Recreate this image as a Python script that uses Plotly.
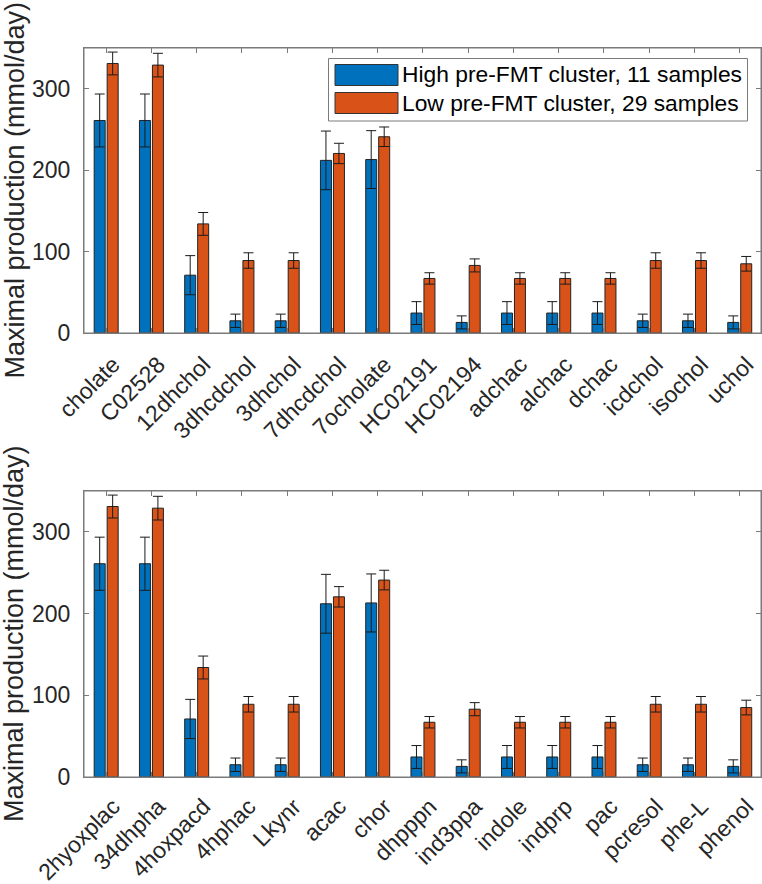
import plotly.graph_objects as go

# ---------------- data ----------------
top_categories = ["cholate", "C02528", "12dhchol", "3dhcdchol", "3dhchol", "7dhcdchol",
                  "7ocholate", "HC02191", "HC02194", "adchac", "alchac", "dchac",
                  "icdchol", "isochol", "uchol"]
top_high = [261, 261, 71, 15, 15, 212, 213, 24.5, 13, 24.5, 24.5, 24.5, 15, 15, 13]
top_high_err = [32.5, 32.5, 24, 8.2, 8.2, 36, 35.5, 14, 8, 14, 14, 14, 8.2, 8.2, 8]
top_low = [331, 329, 134, 89, 89, 220.5, 241, 67, 83, 67, 67, 67, 89, 89, 85]
top_low_err = [14, 14.5, 14, 9.5, 9.5, 12.5, 12, 7, 8, 7, 7, 7, 9.5, 9.5, 9]

bottom_categories = ["2hyoxplac", "34dhpha", "4hoxpacd", "4hphac", "Lkynr", "acac", "chor",
                     "dhpppn", "ind3ppa", "indole", "indprp", "pac", "pcresol", "phe-L", "phenol"]
bottom_high = [261, 261, 71, 15, 15, 212, 213, 24.5, 13, 24.5, 24.5, 24.5, 15, 15, 13]
bottom_high_err = [32.5, 32.5, 24, 8.2, 8.2, 36, 35.5, 14, 8, 14, 14, 14, 8.2, 8.2, 8]
bottom_low = [331, 329, 134, 89, 89, 220.5, 241, 67, 83, 67, 67, 67, 89, 89, 85]
bottom_low_err = [14, 14.5, 14, 9.5, 9.5, 12.5, 12, 7, 8, 7, 7, 7, 9.5, 9.5, 9]

series_names = ["High pre-FMT cluster, 11 samples", "Low pre-FMT cluster, 29 samples"]
y_ticks = [0, 100, 200, 300]
y_title = "Maximal production (mmol/day)"

# ---------------- style ----------------
BLUE = "#0072BD"
ORANGE = "#D95319"
AXCOL = "#7a7a7a"
TXT = "#262626"
FONT = "Liberation Sans, Arial, sans-serif"

W, H = 762, 884
L, R, T, B = 84, 1, 48, 107
pw = W - L - R
ph = H - T - B


def px(x):
    return (x - L) / pw


def py(y):
    return (H - B - y) / ph


fig = go.Figure()

panels = [
    ("x", "y", top_categories, top_high, top_high_err, top_low, top_low_err),
    ("x2", "y2", bottom_categories, bottom_high, bottom_high_err, bottom_low, bottom_low_err),
]

bw = 0.243
for xa, ya, cats, hi, hie, lo, loe in panels:
    for vals, errs, col, off, name in [(hi, hie, BLUE, -0.265, series_names[0]),
                                       (lo, loe, ORANGE, 0.022, series_names[1])]:
        fig.add_trace(go.Bar(
            x=cats, y=vals, xaxis=xa, yaxis=ya, name=name, showlegend=False,
            width=bw, offset=off, hoverinfo="skip",
            marker=dict(color=col, line=dict(color="#222222", width=1)),
            error_y=dict(type="data", array=errs, visible=True, color="#1a1a1a",
                         thickness=1, width=5),
        ))

xcommon = dict(type="category", range=[-0.49, 14.47], tickangle=-45, automargin=False,
               showline=True, linecolor=AXCOL, linewidth=1, mirror="ticks",
               ticks="inside", ticklen=5, tickcolor=AXCOL, showgrid=False, zeroline=False,
               ticklabelshift=7,
               tickfont=dict(family=FONT, size=23, color=TXT))
ycommon = dict(range=[0, 350], tickvals=y_ticks, showline=True, linecolor=AXCOL,
               linewidth=1, mirror="ticks", ticks="inside", ticklen=5, tickcolor=AXCOL,
               showgrid=False, zeroline=False, automargin=False, ticklabelstandoff=8,
               tickfont=dict(family=FONT, size=23, color=TXT))

top_dom = [py(333), 1.0]
bot_dom = [0.0, py(491)]

fig.update_layout(
    width=W, height=H,
    margin=dict(l=L, r=R, t=T, b=B, autoexpand=False),
    paper_bgcolor="white", plot_bgcolor="white",
    barmode="overlay",
    xaxis=dict(domain=[0, 1], anchor="y", ticklabelstandoff=8, **xcommon),
    yaxis=dict(domain=top_dom, anchor="x", **ycommon),
    xaxis2=dict(domain=[0, 1], anchor="y2", ticklabelstandoff=6, **xcommon),
    yaxis2=dict(domain=bot_dom, anchor="x2", **ycommon),
    font=dict(family=FONT, color=TXT),
)

annotations = []
shapes = []
for xa, ya, dom in (("x", "y", top_dom), ("x2", "y2", bot_dom)):
    annotations.append(dict(
        text=y_title, textangle=-90, xref="paper", yref="paper",
        x=px(14), y=(dom[0] + dom[1]) / 2, xanchor="center", yanchor="middle",
        showarrow=False, font=dict(family=FONT, size=27, color=TXT)))
    # axes box frame
    shapes.append(dict(type="rect", xref=xa + " domain", yref=ya + " domain",
                       x0=0, x1=1, y0=0, y1=1, line=dict(color=AXCOL, width=1),
                       layer="above"))

# custom legend (MATLAB-style wide swatches)
shapes.append(dict(type="rect", xref="paper", yref="paper",
                   x0=px(328.5), x1=px(747.5), y0=py(121), y1=py(58.5),
                   line=dict(color=AXCOL, width=1), fillcolor="white", layer="above"))
for i, (col, name) in enumerate([(BLUE, series_names[0]), (ORANGE, series_names[1])]):
    top = 64.5 + i * 28
    shapes.append(dict(type="rect", xref="paper", yref="paper",
                       x0=px(335), x1=px(398), y0=py(top + 21), y1=py(top),
                       line=dict(color="#333333", width=1), fillcolor=col, layer="above"))
    annotations.append(dict(text=name, xref="paper", yref="paper",
                            x=px(400), y=py(74.5 + i * 28.5), xanchor="left", yanchor="middle",
                            showarrow=False, font=dict(family=FONT, size=22.8, color="black")))

fig.update_layout(annotations=annotations, shapes=shapes)

fig.write_html("out.html", config={"displayModeBar": False},
               post_script="document.body.style.margin='0';document.body.style.overflow='hidden';")
